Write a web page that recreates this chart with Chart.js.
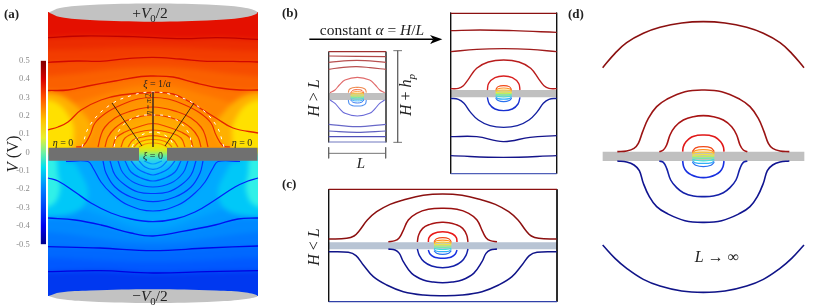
<!DOCTYPE html>
<html>
<head>
<meta charset="utf-8">
<title>Potential maps</title>
<script src="https://cdn.jsdelivr.net/npm/chart.js@4/dist/chart.umd.min.js"></script>
<style>
  html, body { margin: 0; padding: 0; background: #fff; }
  #page { position: relative; width: 830px; height: 308px; overflow: hidden; font-family: "Liberation Serif", serif; color: #222; }
  #page canvas { position: absolute; }
  #heatClip { position: absolute; left: 0; top: 0; width: 280px; height: 308px; clip-path: inset(12.5px 22.5px 12px 48.5px); }
  #heat { filter: blur(2.4px); }
  #contours { filter: blur(0.7px); }
  #panelB, #panelC, #panelD { filter: blur(0.25px); }
  .t { position: absolute; transform: translate(-50%, -50%); white-space: nowrap; }
  .r { transform: translate(-50%, -50%) rotate(-90deg); }
  .tag { font-weight: bold; font-size: 13px; transform: translate(0, -50%); }
  sub { font-size: 0.7em; line-height: 0; }
</style>
</head>
<body>
<div id="page">
  <div id="heatClip"><canvas id="heat" width="280" height="308" style="left:0;top:0"></canvas></div>
  <canvas id="contours" width="280" height="308" style="left:0;top:0"></canvas>
  <canvas id="overlay" width="280" height="308" style="left:0;top:0"></canvas>
  <canvas id="colorbar" width="30" height="206" style="left:16px;top:50px"></canvas>
  <canvas id="panelB" width="280" height="180" style="left:280px;top:0"></canvas>
  <canvas id="panelC" width="280" height="138" style="left:280px;top:170px"></canvas>
  <canvas id="panelD" width="270" height="308" style="left:560px;top:0"></canvas>

  <span class="t tag" style="left:4px;top:14px">(a)</span>
  <span class="t tag" style="left:282px;top:13px">(b)</span>
  <span class="t tag" style="left:282px;top:184px">(c)</span>
  <span class="t tag" style="left:568px;top:14px">(d)</span>

  <span class="t" style="left:150px;top:13px;font-size:15.5px">+<i>V</i><sub>0</sub>/2</span>
  <span class="t" style="left:150px;top:296px;font-size:15.5px">&minus;<i>V</i><sub>0</sub>/2</span>
  <span class="t r" style="left:13px;top:154px;font-size:16.5px"><i>V</i> (V)</span>
  <span class="t" style="left:157px;top:83px;font-size:10px"><i>&xi;</i> = 1/<i>a</i></span>
  <span class="t r" style="left:148px;top:104px;font-size:7.5px"><i>&eta;</i> = <i>&pi;</i>/2</span>
  <span class="t" style="left:153px;top:155px;font-size:10px"><i>&xi;</i> = 0</span>
  <span class="t" style="left:63px;top:142px;font-size:10px"><i>&eta;</i> = 0</span>
  <span class="t" style="left:242px;top:142px;font-size:10px"><i>&eta;</i> = 0</span>

  <span class="t" style="left:372px;top:30px;font-size:15.5px">constant <i>&alpha;</i> = <i>H</i>/<i>L</i></span>
  <span class="t r" style="left:314px;top:98px;font-size:16px"><i>H</i> &gt; <i>L</i></span>
  <span class="t r" style="left:406px;top:95px;font-size:16px"><i>H</i> + <i>h<sub>p</sub></i></span>
  <span class="t" style="left:361px;top:163px;font-size:15px"><i>L</i></span>
  <span class="t r" style="left:314px;top:247px;font-size:16px"><i>H</i> &lt; <i>L</i></span>
  <span class="t" style="left:717px;top:257px;font-size:16px"><i>L</i> &rarr; &infin;</span>
</div>

<script>
// colorbar
const vTicks = [0.5, 0.4, 0.3, 0.2, 0.1, 0, -0.1, -0.2, -0.3, -0.4, -0.5];
const cbarStops = [0, 0.1, 0.3, 0.42, 0.5, 0.58, 0.68, 0.8, 0.9, 1];
const cbarColors = ['#00008c', '#0000f0', '#0080ff', '#00e0f0', '#70f0a0', '#e8f030', '#ffc000', '#ff5000', '#d80000', '#800000'];

const a1 = [[48, 37.7], [83, 36], [133, 36.7], [183, 38.7], [217, 37.7], [258, 39.3]];
const a2 = [[48, 62.3], [77, 61], [100, 61.3], [127, 58.7], [153, 57.3], [180, 59], [207, 61.3], [233, 61.3], [258, 62]];
const a3 = [[48, 90.5], [68, 90], [88, 86], [115, 81], [141, 76.5], [153, 76], [173, 77], [196, 83], [220, 88], [240, 90], [258, 90]];
const a4 = [[48, 130], [58, 127], [68, 122], [81, 110], [101, 100], [121, 95], [153, 92.5], [173, 94], [190, 102], [203, 110], [216, 118], [233, 128], [258, 133]];
const aArcs = [
  [[76, 147], [83, 146], [90, 135], [95, 123], [106, 113], [121, 105], [138, 99], [153, 97.5]],
  [[98, 147], [101, 135], [105, 127], [115, 118], [128, 112], [153, 107]],
  [[105, 147], [108, 137], [115, 128], [128, 120], [153, 115]],
  [[113, 147], [116, 138], [125, 132], [138, 127], [153, 123.5]],
  [[121, 147], [125, 138], [135, 133], [153, 130]],
  [[128, 147], [133, 140], [143, 137], [153, 135.7]],
  [[134, 147], [138, 143], [146, 140], [153, 139.5]],
  [[139, 147], [145, 144], [153, 143]]
];
const aArcColors = ['#e82c00', '#ea3000', '#ec3800', '#ee4000', '#f04c00', '#f45c00', '#f87000', '#fa8c00'];
const aArcFills = ['#ff9400', '#ff9e00', '#ffa800', '#ffb400', '#ffc000', '#ffcc00', '#ffd800', '#f6e400'];

// panel (a) lower half
const b1 = [[48, 271.7], [100, 270.7], [153, 273], [207, 271.7], [258, 270.7]];
const b2 = [[48, 246.7], [100, 248], [153, 250.7], [207, 248], [258, 246]];
const b3 = [[48, 218], [75, 220], [101, 225], [131, 233], [153, 236], [181, 231.7], [215, 225], [238, 219], [258, 218]];
const b4 = [[48, 178], [58, 181], [75, 192], [91, 203], [111, 213], [131, 219], [153, 221.7], [175, 219], [195, 212], [215, 200], [235, 187], [248, 181], [258, 178]];
const bArcs = [
  [[66, 161.5], [88, 161.5], [93, 168], [101, 182], [111, 193], [128, 205], [153, 211]],
  [[103, 161], [106, 173], [115, 187], [131, 197], [153, 201.7]],
  [[110, 161], [115, 175], [125, 185], [138, 192], [153, 193.5]],
  [[118, 161], [123, 173], [135, 183], [153, 187]],
  [[125, 161], [131, 172], [141, 178], [153, 181]],
  [[131, 161], [138, 169], [146, 173], [153, 175]],
  [[139, 161], [145, 167], [153, 169.3]],
  [[144, 161], [153, 164]]
];
const bArcColors = ['#0030ff', '#0034ff', '#0038ff', '#0044ff', '#0050ff', '#0060ff', '#0078ff', '#0098ff'];
const bArcFills = ['#00a0ff', '#00a0ff', '#00a4ff', '#00a8ff', '#00b0ff', '#10b8ff', '#20c8f8', '#30d8f0'];

// extra colour levels between the stripes
const upperLevels = [
  { line: [[48, -10], [258, -10]], color: '#e41000' },
  { line: a1, color: '#ec2c00' },
  { line: [[48, 50], [153, 47], [258, 51]], color: '#f23c00' },
  { line: a2, color: '#f64c00' },
  { line: [[48, 76], [153, 67], [258, 76]], color: '#fa6000' },
  { line: a3, color: '#fe7400' },
  { line: [[48, 112], [90, 98], [153, 85], [216, 98], [258, 112]], color: '#ff8400' }
];
const lowerLevels = [
  { line: [[48, 320], [258, 320]], color: '#0038f0' },
  { line: b1, color: '#0058ff' },
  { line: [[48, 258], [153, 262], [258, 258]], color: '#0068ff' },
  { line: b2, color: '#0078ff' },
  { line: [[48, 232], [153, 243], [258, 232]], color: '#0088ff' },
  { line: b3, color: '#0098ff' },
  { line: [[48, 198], [100, 215], [153, 229], [206, 215], [258, 198]], color: '#00a4ff' },
  { line: b4, color: '#00aaff' }
];
const yellowOuter = [[30, 92], [60, 95], [82, 112], [92, 130], [80, 152], [30, 152]];
const yellowInner = [[30, 100], [55, 102], [70, 118], [74, 135], [68, 152], [30, 152]];
const cyanOuter = [[30, 156], [66, 156], [80, 172], [88, 195], [76, 212], [30, 218]];
const cyanInner = [[30, 156], [54, 156], [58, 175], [60, 190], [52, 205], [30, 208]];
const holeRows = [147, 150, 153, 156, 159];
const holeColors = ['#f2e400', '#c4f030', '#80f080', '#40e8c4', '#28ccf0'];

const capTop = [[48.5, 12.5], [60, 8], [90, 5], [153, 3.5], [216, 5], [246, 8], [257.5, 12.5], [246, 17], [216, 20], [153, 21.7], [90, 20], [60, 17], [48.5, 12.5]];
const capBottom = [[48.5, 296], [60, 292.5], [90, 290.5], [153, 289.3], [216, 290.5], [246, 292.5], [257.5, 296], [246, 299], [216, 301.5], [153, 303], [90, 301.5], [60, 299], [48.5, 296]];
const plateLeft = [[48.5, 147.7], [139, 147.7], [139, 160.7], [48.5, 160.7]];
const plateRight = [[167, 147.7], [257.5, 147.7], [257.5, 160.7], [167, 160.7]];
const ringOuter = [[82, 147], [90, 125], [110, 105], [133, 95], [153, 92]];
const ringMiddle = [[114, 147], [118, 132], [133, 118], [153, 115]];
const ringInner = [[132, 147], [137, 138], [153, 132]];
const rayCentre = [[153, 92], [153, 147]];
const rayLeft = [[112, 103], [142, 146]];
const rayRight = [[194, 103], [165, 146]];

// panel (b), raster units of the zoomed crop
const bSmallFrame = [[[146, 155], [146, 427]], [[318, 155], [318, 427]]];
const bSmallFlat = [
  [[146, 155], [318, 155]],
  [[146, 168], [318, 170]],
  [[146, 187], [230, 181], [318, 187]],
  [[146, 208], [190, 202], [230, 200], [270, 203], [318, 208]],
  [[146, 373], [230, 380], [318, 373]],
  [[146, 393], [230, 397], [318, 393]],
  [[146, 410], [318, 410]],
  [[146, 426], [318, 426]]
];
const bSmallFlatColors = ['#a03030', '#b04848', '#b85050', '#b85050', '#6868c8', '#6060c0', '#5050b8', '#7078c0'];
const bSmallArcs = [
  [[150, 278], [165, 270], [178, 255], [195, 240], [232, 232]],
  [[205, 278], [208, 268], [218, 263], [232, 262]],
  [[205, 300], [208, 312], [218, 317], [232, 318]],
  [[150, 300], [165, 310], [178, 325], [195, 340], [232, 348]]
];
const bSmallArcColors = ['#e06a6a', '#f08a50', '#5090f0', '#6a6ad8'];
const bSmallPlate = [[146, 279], [318, 279], [318, 300], [146, 300]];
const bBigFrame = [[[512, 38], [512, 521]], [[830, 38], [830, 521]]];
const bBigFlat = [
  [[512, 40], [830, 40]],
  [[512, 92], [600, 90], [700, 92], [830, 97]],
  [[512, 155], [590, 148], [671, 146], [750, 148], [830, 155]],
  [[512, 410], [590, 410], [670, 425], [750, 412], [830, 407]],
  [[512, 467], [670, 472], [830, 467]],
  [[512, 521], [830, 521]]
];
const bBigFlatColors = ['#8b1010', '#9a1818', '#a01c1c', '#14148c', '#14148a', '#5060b8'];
const bBigArcs = [
  [[512, 266], [535, 265], [550, 257], [565, 238], [590, 205], [625, 186], [671, 180]],
  [[622, 270], [626, 250], [645, 233], [671, 228]],
  [[622, 292], [628, 312], [645, 327], [671, 332]],
  [[512, 295], [535, 298], [552, 310], [570, 335], [595, 360], [630, 377], [671, 382]]
];
const bBigArcColors = ['#b81c1c', '#d82020', '#1830d0', '#1420a0'];
const bBigPlate = [[512, 270], [830, 270], [830, 292], [512, 292]];
const arrowShaft = [[88, 118], [460, 118]];
const arrowHead = [[450, 105], [487, 118], [450, 132], [460, 118]];
const dimHeight = [[[353, 152], [353, 427]], [[340, 152], [366, 152]], [[340, 427], [366, 427]]];
const dimWidth = [[[146, 460], [317, 460]], [[146, 442], [146, 475]], [[317, 442], [317, 475]]];

// panel (c)
const cFrame = [[[146, 58], [146, 395]], [[831, 58], [831, 395]]];
const cTopLine = [[146, 58], [831, 58]];
const cBottomLine = [[146, 395], [831, 395]];
const cArcs = [
  [[146, 207], [200, 205], [222, 198], [238, 182], [262, 150], [290, 125], [330, 103], [370, 90], [430, 76], [488, 72]],
  [[325, 215], [345, 212], [358, 203], [368, 185], [385, 150], [410, 130], [445, 118], [488, 115]],
  [[412, 216], [416, 195], [428, 175], [450, 163], [470, 158], [488, 157]],
  [[445, 216], [447, 203], [458, 192], [472, 187], [488, 185]],
  [[445, 240], [450, 252], [462, 261], [475, 264], [488, 265]],
  [[412, 237], [418, 256], [432, 275], [455, 288], [488, 293]],
  [[325, 237], [345, 240], [358, 250], [370, 275], [395, 310], [430, 330], [460, 336], [488, 338]],
  [[146, 245], [205, 247], [228, 257], [250, 285], [280, 320], [320, 345], [370, 365], [430, 375], [488, 377]]
];
const cArcColors = ['#8b1010', '#9a1010', '#a81414', '#e81818', '#1830e0', '#1420a8', '#101490', '#101488'];
const cPlate = [[146, 217], [831, 217], [831, 238], [146, 238]];

// panel (d)
const dArcs = [
  [[128, 203], [165, 160], [200, 128], [250, 100], [300, 82], [365, 69], [430, 65]],
  [[172, 455], [200, 453], [222, 445], [235, 430], [248, 395], [265, 355], [290, 320], [320, 298], [375, 275], [430, 270]],
  [[298, 455], [310, 450], [320, 435], [330, 405], [345, 380], [370, 360], [400, 350], [430, 347]],
  [[368, 455], [370, 440], [378, 425], [395, 411], [412, 406], [430, 405]],
  [[368, 483], [371, 500], [380, 515], [395, 525], [412, 531], [430, 533]],
  [[298, 483], [310, 487], [320, 505], [332, 540], [350, 563], [370, 578], [400, 588], [430, 590]],
  [[172, 483], [200, 486], [222, 495], [238, 512], [250, 550], [268, 590], [290, 620], [320, 640], [375, 662], [430, 667]],
  [[128, 735], [165, 775], [200, 805], [250, 838], [300, 858], [365, 873], [430, 877]]
];
const dArcColors = ['#8b1010', '#9a1414', '#a81414', '#e01818', '#1830e0', '#1420a8', '#101490', '#101488'];
const dPlate = [[128, 455], [733, 455], [733, 483], [128, 483]];

// the little rainbow stack around the hole, per-row shape in units of its half size
const lensRows = [
  [[-1, -0.5], [-0.7, -0.88], [0, -1], [0.7, -0.88], [1, -0.5]],
  [[-1, -0.38], [-0.7, -0.62], [0, -0.7], [0.7, -0.62], [1, -0.38]],
  [[-1, -0.28], [-0.7, -0.42], [0, -0.46], [0.7, -0.42], [1, -0.28]],
  [[-1, -0.15], [0, -0.22], [1, -0.15]],
  [[-1, -0.02], [0, -0.02], [1, -0.02]],
  [[-1, 0.12], [0, 0.18], [1, 0.12]],
  [[-1, 0.26], [-0.7, 0.36], [0, 0.42], [0.7, 0.36], [1, 0.26]],
  [[-1, 0.4], [-0.7, 0.62], [0, 0.68], [0.7, 0.62], [1, 0.4]],
  [[-1, 0.55], [-0.7, 0.86], [0, 1], [0.7, 0.86], [1, 0.55]]
];
const lensColors = ['#f04818', '#ff9020', '#ffc830', '#f0e840', '#b8f060', '#70f0a0', '#40e0d8', '#30b0f8', '#2870f0'];

const xy = pts => pts.map(p => ({ x: p[0], y: p[1] }));
const mirror = (pts, cx) => pts.concat(pts.slice(0, -1).reverse().map(p => [2 * cx - p[0], p[1]]));
const flip = pts => pts.map(p => [306 - p[0], p[1]]);
const widen = pts => [[20, pts[0][1]], ...pts, [290, pts[pts.length - 1][1]]];

const stroke = (pts, color, width, extra) => Object.assign({
  data: xy(pts), pointRadius: 0, borderColor: color, borderWidth: width,
  backgroundColor: color, tension: 0.4, fill: false
}, extra);
const shape = (pts, color, tension) => ({
  data: xy(pts), pointRadius: 0, borderWidth: 0, borderColor: color,
  backgroundColor: color, tension: tension || 0, fill: 'shape'
});
const band = (pts, color, toY) => ({
  data: xy(pts), pointRadius: 0, borderWidth: 0, borderColor: color,
  backgroundColor: color, tension: 0.4, fill: { value: toY }
});
const lens = (cx, cy, hw, hh, width) => lensRows.map((row, i) =>
  stroke(row.map(p => [cx + p[0] * hw, cy + p[1] * hh]), lensColors[i], width));

function panel(id, xMax, yMax, datasets) {
  datasets.forEach((d, i) => { d.order = -i; });
  return new Chart(document.getElementById(id), {
    type: 'line',
    data: { datasets },
    options: {
      responsive: false,
      animation: false,
      events: [],
      devicePixelRatio: 1,
      layout: { padding: 0 },
      plugins: { legend: { display: false }, tooltip: { enabled: false } },
      scales: {
        x: { type: 'linear', display: false, min: 0, max: xMax },
        y: { type: 'linear', display: false, min: 0, max: yMax, reverse: true }
      }
    }
  });
}

// heat map: painted outside-in and blurred so the flat levels melt together
const heatSets = [];
upperLevels.forEach(l => heatSets.push(band(widen(l.line), l.color, 154)));
heatSets.push(band(widen(a4), '#ff8c00', 154));
heatSets.push(shape(yellowOuter, '#ffb000', 0.4), shape(flip(yellowOuter), '#ffb000', 0.4));
heatSets.push(shape(yellowInner, '#ffe000', 0.4), shape(flip(yellowInner), '#ffe000', 0.4));
aArcs.forEach((arc, i) => heatSets.push(band(mirror(arc, 153), aArcFills[i], 154)));
lowerLevels.forEach(l => heatSets.push(band(widen(l.line), l.color, 154)));
heatSets.push(shape(cyanOuter, '#00c8f8', 0.4), shape(flip(cyanOuter), '#00c8f8', 0.4));
heatSets.push(shape(cyanInner, '#30f0e8', 0.4), shape(flip(cyanInner), '#30f0e8', 0.4));
bArcs.forEach((arc, i) => heatSets.push(band(mirror(arc, 153), bArcFills[i], 154)));
holeRows.forEach((y, i) => heatSets.push(band([[130, y], [176, y]], holeColors[i], y + 4)));
panel('heat', 280, 308, heatSets);

const contourSets = [
  stroke(a1, '#c00000', 1.3), stroke(a2, '#d00800', 1.3), stroke(a3, '#dc1400', 1.3), stroke(a4, '#e42400', 1.3),
  ...aArcs.map((arc, i) => stroke(mirror(arc, 153), aArcColors[i], 1.2)),
  stroke(b1, '#0000e0', 1.3), stroke(b2, '#0008e8', 1.3), stroke(b3, '#0010f0', 1.3), stroke(b4, '#0020f8', 1.3),
  ...bArcs.map((arc, i) => stroke(mirror(arc, 153), bArcColors[i], 1.2))
];
panel('contours', 280, 308, contourSets);

const dash = { borderDash: [3, 5] };
panel('overlay', 280, 308, [
  shape(capTop, '#c2c2c2', 0.4), shape(capBottom, '#c2c2c2', 0.4),
  shape(plateLeft, '#707070'), shape(plateRight, '#707070'),
  stroke(mirror(ringOuter, 153), '#ffffff', 1, dash),
  stroke(mirror(ringMiddle, 153), '#ffffff', 1, dash),
  stroke(mirror(ringInner, 153), '#ffffff', 1, dash),
  stroke(rayCentre, '#4a3020', 1.6, { tension: 0 }),
  stroke(rayLeft, '#2a1a10', 0.9, { tension: 0 }),
  stroke(rayRight, '#2a1a10', 0.9, { tension: 0 })
]);

new Chart(document.getElementById('colorbar'), {
  type: 'bar',
  data: {
    labels: ['V'],
    datasets: [{
      data: [[-0.5, 0.5]],
      barPercentage: 1,
      categoryPercentage: 1,
      backgroundColor: ctx => {
        const area = ctx.chart.chartArea;
        if (!area) return cbarColors[0];
        const g = ctx.chart.ctx.createLinearGradient(0, area.bottom, 0, area.top);
        cbarStops.forEach((s, i) => g.addColorStop(s, cbarColors[i]));
        return g;
      }
    }]
  },
  options: {
    responsive: false,
    animation: false,
    events: [],
    devicePixelRatio: 1,
    layout: { padding: { top: 10.7, bottom: 11.7 } },
    plugins: { legend: { display: false }, tooltip: { enabled: false } },
    scales: {
      x: { display: false },
      y: {
        min: -0.5, max: 0.5,
        afterFit: s => { s.width = 24.7; },
        afterBuildTicks: s => { s.ticks = vTicks.map(v => ({ value: v })); },
        border: { display: false },
        grid: { display: false },
        ticks: {
          autoSkip: false, padding: 3, color: '#8a8a8a',
          font: { family: '"Liberation Serif", serif', size: 8.5 },
          callback: v => String(Math.round(v * 10) / 10)
        }
      }
    }
  }
});

panel('panelB', 840, 540, [
  shape(bSmallPlate, '#c0c0c0'), shape(bBigPlate, '#c0c0c0'),
  ...bSmallFrame.map(s => stroke(s, '#333', 0.8, { tension: 0 })),
  ...bBigFrame.map(s => stroke(s, '#111', 1, { tension: 0 })),
  ...bSmallFlat.map((l, i) => stroke(l, bSmallFlatColors[i], 1.1)),
  ...bSmallArcs.map((l, i) => stroke(mirror(l, 232), bSmallArcColors[i], 1.1)),
  ...bBigFlat.map((l, i) => stroke(l, bBigFlatColors[i], 1.4)),
  ...bBigArcs.map((l, i) => stroke(mirror(l, 671), bBigArcColors[i], 1.4)),
  ...lens(232, 289, 20, 20, 0.9),
  ...lens(671, 281, 24, 24, 1.1),
  stroke(arrowShaft, '#000', 1.5, { tension: 0 }),
  shape(arrowHead, '#000'),
  ...dimHeight.map(s => stroke(s, '#666', 0.9, { tension: 0 })),
  ...dimWidth.map(s => stroke(s, '#666', 0.9, { tension: 0 }))
]);

panel('panelC', 840, 414, [
  shape(cPlate, '#b8c4d4'),
  ...cFrame.map(s => stroke(s, '#111', 1, { tension: 0 })),
  stroke(cTopLine, '#8b1010', 1.4),
  stroke(cBottomLine, '#3040a8', 1.4),
  ...cArcs.map((l, i) => stroke(mirror(l, 488), cArcColors[i], 1.5)),
  ...lens(488, 228, 26, 25, 1.1)
]);

panel('panelD', 810, 924, [
  shape(dPlate, '#c0c0c0'),
  ...dArcs.map((l, i) => stroke(mirror(l, 430), dArcColors[i], 1.6)),
  ...lens(430, 470, 33, 30, 1.2)
]);
</script>
</body>
</html>
